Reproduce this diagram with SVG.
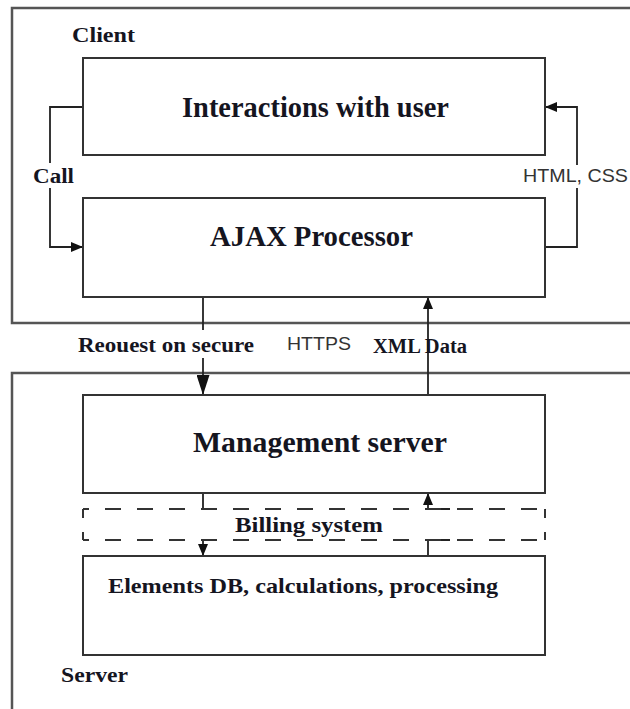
<svg xmlns="http://www.w3.org/2000/svg" width="630" height="709" viewBox="0 0 630 709">
  <defs>
    <marker id="arrow" viewBox="0 0 12 10" refX="12" refY="5" markerWidth="12" markerHeight="10" markerUnits="userSpaceOnUse" orient="auto">
      <path d="M0,0 L12,5 L0,10 Z" fill="#111"/>
    </marker>
    <marker id="arrow-lg" viewBox="0 0 20 13" refX="20" refY="6.5" markerWidth="20" markerHeight="13" markerUnits="userSpaceOnUse" orient="auto">
      <path d="M0,0 L20,6.5 L0,13 Z" fill="#111"/>
    </marker>
  </defs>
  <style>
    .zone { fill: none; stroke: #555; stroke-width: 2.5; }
    .box { fill: #fff; stroke: #333; stroke-width: 2; }
    .dash { fill: none; stroke: #333; stroke-width: 2; stroke-dasharray: 16 16; }
    .wire { fill: none; stroke: #222; stroke-width: 1.8; }
    .title { font-family: "Liberation Serif", "Times New Roman", serif; font-weight: bold; fill: #15151f; }
    .big { font-size: 29px; }
    .mid { font-size: 22px; }
    .small { font-size: 20px; }
    .sans { font-family: "Liberation Sans", Arial, sans-serif; font-size: 18px; fill: #333; }
  </style>

  <rect width="630" height="709" fill="#fff"/>

  <!-- client and server zones -->
  <g id="client-zone">
    <path class="zone" d="M640,8 H12 V323 H640"/>
    <text class="title small" x="72" y="42" textLength="63" lengthAdjust="spacingAndGlyphs">Client</text>
  </g>
  <g id="server-zone">
    <path class="zone" d="M640,373 H12 V720"/>
    <text class="title small" x="61" y="682" textLength="67" lengthAdjust="spacingAndGlyphs">Server</text>
  </g>

  <!-- connectors (lines break where a label sits on them) -->
  <g id="connectors">
    <path class="wire" d="M83,107 H50 V163"/>
    <path class="wire" d="M50,188 V247 H83" marker-end="url(#arrow)"/>
    <path class="wire" d="M545,247 H577 V188"/>
    <path class="wire" d="M577,165 V107 H545" marker-end="url(#arrow)"/>
    <path class="wire" d="M203,297 V330"/>
    <path class="wire" d="M203,358 V395" marker-end="url(#arrow-lg)"/>
    <path class="wire" d="M428,395 V297" marker-end="url(#arrow)"/>
    <path class="wire" d="M203,493 V509 H217"/>
    <path class="wire" d="M203,540 V556" marker-end="url(#arrow)"/>
    <path class="wire" d="M428,556 V540 H450"/>
    <path class="wire" d="M450,509 H428 V493" marker-end="url(#arrow)"/>
    <text class="title small" x="33" y="183" textLength="41" lengthAdjust="spacingAndGlyphs">Call</text>
    <text class="sans" x="523" y="182" textLength="105" lengthAdjust="spacingAndGlyphs">HTML, CSS</text>
    <text class="title small" x="78" y="352" textLength="176" lengthAdjust="spacingAndGlyphs">Reouest on secure</text>
    <text class="sans" x="287" y="350" textLength="64" lengthAdjust="spacingAndGlyphs">HTTPS</text>
    <text class="title small" x="373" y="353" textLength="94" lengthAdjust="spacingAndGlyphs">XML Data</text>
  </g>

  <!-- client nodes -->
  <g id="interactions">
    <rect class="box" x="83" y="58" width="462" height="97"/>
    <text class="title big" x="182" y="117" textLength="267" lengthAdjust="spacingAndGlyphs">Interactions with user</text>
  </g>
  <g id="ajax">
    <rect class="box" x="83" y="198" width="462" height="99"/>
    <text class="title big" x="210" y="246" textLength="203" lengthAdjust="spacingAndGlyphs">AJAX Processor</text>
  </g>

  <!-- server nodes -->
  <g id="management">
    <rect class="box" x="83" y="395" width="462" height="98"/>
    <text class="title big" x="193" y="452" textLength="254" lengthAdjust="spacingAndGlyphs">Management server</text>
  </g>
  <g id="billing">
    <path class="dash" d="M83,509 H545" stroke-dashoffset="10"/>
    <path class="dash" d="M83,540 H545" stroke-dashoffset="10"/>
    <path class="dash" d="M83,509 V540" style="stroke-dasharray: 9 14"/>
    <path class="dash" d="M545,509 V540" style="stroke-dasharray: 9 14"/>
    <text class="title mid" x="235" y="532" textLength="148" lengthAdjust="spacingAndGlyphs">Billing system</text>
  </g>
  <g id="elements">
    <rect class="box" x="83" y="556" width="462" height="99"/>
    <text class="title mid" x="108" y="593" textLength="390" lengthAdjust="spacingAndGlyphs">Elements DB, calculations, processing</text>
  </g>
</svg>
